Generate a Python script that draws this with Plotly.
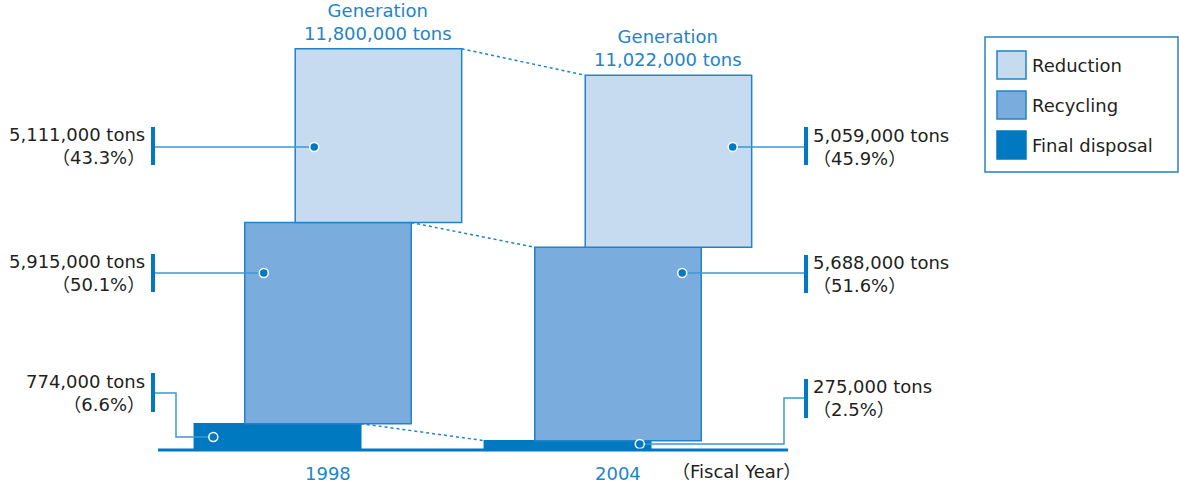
import plotly.graph_objects as go

# data (tons)
years = ["1998", "2004"]
final_disposal = [774000, 275000]
recycling = [5915000, 5688000]
reduction = [5111000, 5059000]
generation = [11800000, 11022000]
pct_final = ["6.6%", "2.5%"]
pct_recycling = ["50.1%", "51.6%"]
pct_reduction = ["43.3%", "45.9%"]

BLUE = "#0079c1"
EDGE = "#1f84c8"
LINE = "#3a98d6"
TXT = "#231f20"
FONT = "DejaVu Sans, Noto Sans CJK JP"

W, H = 1179, 488
PXU = 290.0           # pixels per x unit
PXM = 34.0            # pixels per million tons
X0 = -328 / PXU
BASE_PX = 450


def xd(p):
    return X0 + p / PXU


def yd(p):
    return (BASE_PX - p) / PXM * 1e6


pos = [0, 1]
step = 0.174
bw = 0.574
series = [
    ("Final disposal", final_disposal, -step, BLUE),
    ("Recycling", recycling, 0.0, "#7aaddd"),
    ("Reduction", reduction, step, "#c6dbf0"),
]

fig = go.Figure()
bases = [0, 0]
edges = {}
for name, vals, off, col in series:
    xs = [p + off for p in pos]
    fig.add_trace(go.Bar(
        x=xs, y=vals, base=list(bases), width=bw,
        marker=dict(color=col, line=dict(color=EDGE if col != BLUE else BLUE, width=1.5)),
        showlegend=False, hoverinfo="skip",
    ))
    tops = [b + v for b, v in zip(bases, vals)]
    edges[name] = dict(left=[x - bw / 2 for x in xs], right=[x + bw / 2 for x in xs],
                       base=list(bases), top=tops)
    bases = tops

# dotted connectors between the tops of each block
for name in ["Final disposal", "Recycling", "Reduction"]:
    e = edges[name]
    fig.add_trace(go.Scatter(
        x=[e["right"][0], e["left"][1]], y=[e["top"][0], e["top"][1]],
        mode="lines", line=dict(color=EDGE, width=1.5, dash="dot"),
        showlegend=False, hoverinfo="skip",
    ))

# baseline
fig.add_shape(type="line", x0=xd(158), x1=xd(788), y0=0, y1=0,
              line=dict(color=BLUE, width=3))

# labels with bars, leaders and dots
labels = [
    # (year index, series, value, pct, label y px, bar y0 px, bar y1 px)
    (0, "Reduction", reduction[0], pct_reduction[0], 146, 127, 165),
    (0, "Recycling", recycling[0], pct_recycling[0], 273, 254, 292),
    (0, "Final disposal", final_disposal[0], pct_final[0], 393, 373, 412),
    (1, "Reduction", reduction[1], pct_reduction[1], 147, 127, 165),
    (1, "Recycling", recycling[1], pct_recycling[1], 274, 255, 293),
    (1, "Final disposal", final_disposal[1], pct_final[1], 398, 379, 418),
]
for i, name, val, pct, ly, b0, b1 in labels:
    e = edges[name]
    left_side = i == 0
    bar_x = 153 if left_side else 806
    fig.add_shape(type="line", x0=xd(bar_x), x1=xd(bar_x), y0=yd(b0), y1=yd(b1),
                  line=dict(color=BLUE, width=4))
    fig.add_annotation(
        x=xd(147 if left_side else 811), y=yd(ly),
        text=f"{val:,} tons<br>（{pct}）",
        xanchor="right" if left_side else "left", yanchor="middle",
        align="right" if left_side else "left", showarrow=False,
        font=dict(family=FONT, size=18, color=TXT),
    )
    if name == "Final disposal":
        if left_side:
            dx = e["left"][i] + 19 / PXU
            dy = yd(437)
            xs = [xd(155), xd(176), xd(176), dx]
            ys = [yd(ly), yd(ly), dy, dy]
        else:
            dx = e["right"][i] - 11 / PXU
            dy = yd(444)
            xs = [dx, xd(784), xd(784), xd(804)]
            ys = [dy, dy, yd(ly), yd(ly)]
    else:
        dy = yd(147 if ly < 200 else 273)
        if left_side:
            dx = e["left"][i] + 19 / PXU
            xs = [xd(155), dx]
        else:
            dx = e["right"][i] - 19 / PXU
            xs = [dx, xd(804)]
        ys = [dy, dy]
    fig.add_trace(go.Scatter(x=xs, y=ys, mode="lines", line=dict(color=LINE, width=1.5),
                             showlegend=False, hoverinfo="skip"))
    fig.add_trace(go.Scatter(x=[dx], y=[dy], mode="markers",
                             marker=dict(size=9, color=BLUE, line=dict(color="white", width=1.5)),
                             showlegend=False, hoverinfo="skip"))

# generation labels above each stack
for i in range(2):
    e = edges["Reduction"]
    fig.add_annotation(
        x=(e["left"][i] + e["right"][i]) / 2, y=generation[i], yshift=3,
        text=f"Generation<br>{generation[i]:,} tons",
        xanchor="center", yanchor="bottom", showarrow=False,
        font=dict(family=FONT, size=18, color=EDGE),
    )

# year labels
for i, yr in enumerate(years):
    fig.add_annotation(x=pos[i], y=yd(473), text=yr, showarrow=False,
                       xanchor="center", yanchor="middle",
                       font=dict(family=FONT, size=18, color=EDGE))
fig.add_annotation(x=xd(670), y=yd(471), text="（Fiscal Year）", showarrow=False,
                   xanchor="left", yanchor="middle",
                   font=dict(family=FONT, size=18, color=TXT))


# custom legend box
def pxr(x):
    return x / W


def pyr(y):
    return 1 - y / H


fig.add_shape(type="rect", xref="paper", yref="paper",
              x0=pxr(985), x1=pxr(1178), y0=pyr(37), y1=pyr(172),
              line=dict(color=EDGE, width=1.5), fillcolor="white")
leg_y = [65, 105, 145]
for (name, _, _, col), ly in zip(series[::-1], leg_y):
    fig.add_shape(type="rect", xref="paper", yref="paper",
                  x0=pxr(997), x1=pxr(1026), y0=pyr(ly - 14), y1=pyr(ly + 14),
                  line=dict(color=EDGE if col != BLUE else BLUE, width=1.5), fillcolor=col)
    fig.add_annotation(xref="paper", yref="paper", x=pxr(1030), y=pyr(ly), text=name,
                       showarrow=False, xanchor="left", yanchor="middle",
                       font=dict(family=FONT, size=18, color=TXT))

fig.update_layout(
    width=W, height=H,
    margin=dict(l=0, r=0, t=0, b=0),
    plot_bgcolor="white", paper_bgcolor="white",
    barmode="overlay",
    xaxis=dict(range=[X0, X0 + W / PXU], visible=False, fixedrange=True),
    yaxis=dict(range=[yd(H), yd(0)], visible=False, fixedrange=True),
    showlegend=False,
)

fig.write_html("out.html", config={"displayModeBar": False},
               post_script="document.body.style.margin='0';")
